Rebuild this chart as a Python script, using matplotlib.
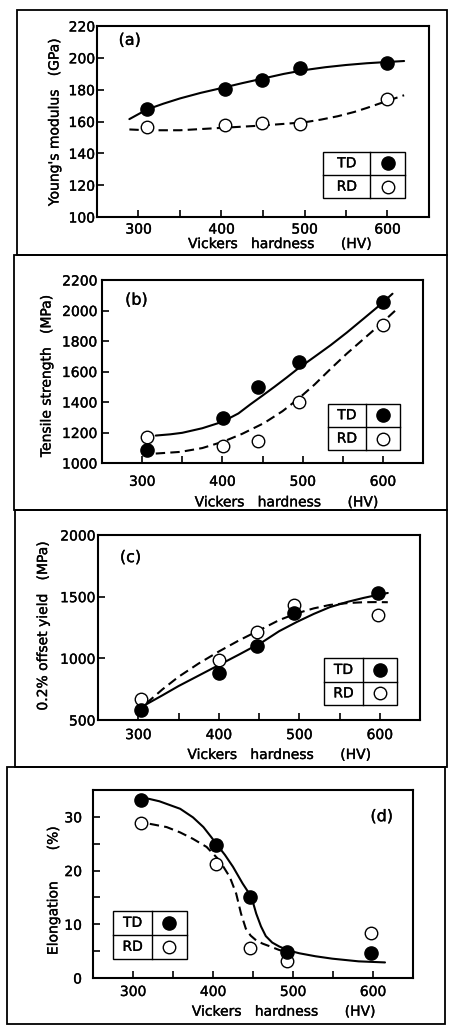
import matplotlib.pyplot as plt
import matplotlib.patheffects as pe
from matplotlib.text import Text
from matplotlib.patches import Rectangle
from matplotlib.lines import Line2D
from matplotlib.ticker import MultipleLocator

plt.rcParams['font.family'] = ['DejaVu Sans']
plt.rcParams['font.size'] = 10

# measured points: hardness (HV) and property, TD and RD specimens
hv_a = [310, 404, 449, 495, 600]
td_young = [168, 180.5, 186, 193.5, 196.5]
rd_young = [156.5, 158, 159, 158.5, 174]

hv_b = [306, 401, 445, 496, 600]
td_tensile = [1085, 1295, 1500, 1662, 2055]
rd_tensile = [1170, 1110, 1145, 1402, 1903]

hv_c = [303, 400, 447, 494, 598]
td_yield = [585, 885, 1100, 1365, 1530]
rd_yield = [670, 988, 1216, 1430, 1352]

hv_d = [310, 404, 446, 493, 598]
td_elong = [33.2, 24.7, 15.0, 4.9, 4.6]
rd_elong = [28.8, 21.2, 5.5, 3.1, 8.4]

# hand drawn trend curves
td_young_hv = [289, 310, 330, 350, 375, 400, 425, 450, 475, 500, 525, 550, 575, 600, 620]
td_young_fit = [161.5, 167.5, 171.2, 174.5, 178, 181, 184.1, 187, 189.9, 192.3, 194.1, 195.5, 196.6, 197.4, 198]
rd_young_hv = [289, 310, 350, 400, 450, 500, 520, 540, 560, 575, 590, 600, 620]
rd_young_fit = [155, 154.5, 154.5, 156, 157.5, 159.5, 161.2, 163.3, 166, 168.5, 171.2, 173, 176.5]

td_tensile_hv = [317, 335, 350, 375, 400, 420, 435, 450, 465, 480, 494, 515, 535, 555, 577, 595, 612]
td_tensile_fit = [1180, 1188, 1198, 1228, 1270, 1325, 1385, 1442, 1500, 1560, 1618, 1697, 1773, 1855, 1951, 2030, 2110]
rd_tensile_hv = [317, 348, 375, 401, 425, 452, 475, 494, 515, 535, 555, 577, 597, 617]
rd_tensile_fit = [1062, 1073, 1098, 1140, 1192, 1262, 1340, 1418, 1515, 1618, 1717, 1818, 1910, 2007]

td_yield_hv = [308, 330, 350, 375, 400, 425, 455, 475, 497, 518, 538, 560, 580, 597, 610]
td_yield_fit = [620, 700, 775, 860, 945, 1030, 1135, 1220, 1295, 1360, 1415, 1458, 1490, 1514, 1530]
rd_yield_hv = [310, 330, 350, 375, 400, 425, 455, 475, 497, 518, 538, 560, 580, 595, 610]
rd_yield_fit = [635, 748, 850, 958, 1055, 1145, 1243, 1310, 1365, 1405, 1433, 1448, 1455, 1456, 1455]

td_elong_hv = [310, 333, 359, 375, 388, 398, 404, 415, 425, 437, 448, 454, 460, 466, 474, 483, 495, 508, 528, 549, 582, 615]
td_elong_fit = [33.7, 32.9, 31.5, 29.9, 28.1, 26.2, 25.0, 22.9, 20.7, 17.6, 15.1, 12.0, 9.6, 7.8, 6.6, 5.85, 5.1, 4.6, 4.05, 3.6, 3.1, 2.9]
rd_elong_hv = [321, 342, 359, 375, 392, 408, 421, 429, 435, 441, 447, 454, 462, 471, 483, 500]
rd_elong_fit = [28.7, 28.1, 27.1, 25.9, 24.4, 21.9, 18.8, 15.7, 12.0, 9.2, 7.9, 7.0, 6.4, 5.9, 5.2, 4.6]

W, H = 449, 1026
fig = plt.figure(figsize=(W / 100, H / 100), dpi=100)

MS = 9.5
LW = 1.5
DASH = (0, (4.5, 2.5))


def add_axes_px(l, t, r, b):
    return fig.add_axes([l / W, 1 - b / H, (r - l) / W, (b - t) / H])


def frame_px(l, t, r, b):
    fig.add_artist(Rectangle((l / W, 1 - b / H), (r - l) / W, (b - t) / H,
                             transform=fig.transFigure, fill=False,
                             lw=1.3, ec='black'))


def draw_key(ax, x0, x1, xd, y0, ym, y1):
    tr = ax.transAxes
    ax.add_patch(Rectangle((x0, y0), x1 - x0, y1 - y0, transform=tr,
                           fill=False, lw=1.0, ec='black', zorder=5))
    ax.add_line(Line2D([xd, xd], [y0, y1], transform=tr, lw=1.0, color='black', zorder=5))
    ax.add_line(Line2D([x0, x1], [ym, ym], transform=tr, lw=1.0, color='black', zorder=5))
    xt = (x0 + xd) / 2
    xm = (xd + x1) / 2
    yt = (ym + y1) / 2
    yb = (y0 + ym) / 2
    ax.text(xt, yt, 'TD', transform=tr, ha='center', va='center', fontsize=10)
    ax.text(xt, yb, 'RD', transform=tr, ha='center', va='center', fontsize=10)
    ax.plot([xm], [yt], 'o', color='black', ms=MS, transform=tr, clip_on=False, zorder=6)
    ax.plot([xm], [yb], 'o', mfc='white', mec='black', mew=1.0, ms=MS - 0.5,
            transform=tr, clip_on=False, zorder=6)


def style(ax, ylim, ystep, yminor, xpad, ypad):
    ax.set_xlim(250, 650)
    ax.set_ylim(*ylim)
    ax.xaxis.set_major_locator(MultipleLocator(100))
    ax.xaxis.set_minor_locator(MultipleLocator(50))
    ax.yaxis.set_major_locator(MultipleLocator(ystep))
    if yminor:
        ax.yaxis.set_minor_locator(MultipleLocator(yminor))
    for s in ax.spines.values():
        s.set_linewidth(1.5)
    ax.tick_params(axis='both', which='both', direction='in', length=5, width=1.2)
    ax.tick_params(axis='x', pad=xpad)
    ax.tick_params(axis='y', pad=ypad)


def draw_panel(ax, hv, td, rd, td_hv, td_fit, rd_hv, rd_fit):
    ax.plot(td_hv, td_fit, '-', color='black', lw=LW, solid_capstyle='round', zorder=2)
    ax.plot(rd_hv, rd_fit, color='black', lw=LW, linestyle=DASH, zorder=2)
    ax.plot(hv, rd, 'o', mfc='white', mec='black', mew=1.0, ms=MS - 0.5, zorder=3, clip_on=False)
    ax.plot(hv, td, 'o', color='black', ms=MS, zorder=4, clip_on=False)


XLABEL = 'Vickers   hardness      (HV)'

# panel frames
frame_px(17, 10, 447, 255)
frame_px(14, 255, 447, 510)
frame_px(15, 510, 447, 767)
frame_px(7, 767, 445, 1024)

# (a) Young's modulus
ax = add_axes_px(97, 26, 429, 217)
draw_panel(ax, hv_a, td_young, rd_young, td_young_hv, td_young_fit, rd_young_hv, rd_young_fit)
style(ax, (100, 220), 20, None, 4, 1.5)
ax.set_ylabel("Young's modulus   (GPa)")
ax.yaxis.set_label_coords(-0.107, 0.495)
ax.set_xlabel(XLABEL)
ax.xaxis.set_label_coords(0.55, -0.105)
ax.text(0.065, 0.925, '(a)', transform=ax.transAxes, ha='left', va='center', fontsize=11.5)
draw_key(ax, 0.682, 0.928, 0.823, 0.098, 0.22, 0.342)

# (b) tensile strength
ax = add_axes_px(102, 280, 423, 463)
draw_panel(ax, hv_b, td_tensile, rd_tensile, td_tensile_hv, td_tensile_fit, rd_tensile_hv, rd_tensile_fit)
style(ax, (1000, 2200), 200, None, 8.5, 3.5)
ax.set_ylabel('Tensile strength   (MPa)')
ax.yaxis.set_label_coords(-0.151, 0.475)
ax.set_xlabel(XLABEL)
ax.xaxis.set_label_coords(0.574, -0.177)
ax.text(0.072, 0.89, '(b)', transform=ax.transAxes, ha='left', va='center', fontsize=11.5)
draw_key(ax, 0.703, 0.928, 0.823, 0.07, 0.197, 0.325)

# (c) 0.2% offset yield
ax = add_axes_px(98, 535, 420, 720)
draw_panel(ax, hv_c, td_yield, rd_yield, td_yield_hv, td_yield_fit, rd_yield_hv, rd_yield_fit)
style(ax, (500, 2000), 500, None, 5.8, 2)
ax.set_ylabel('0.2% offset yield   (MPa)')
ax.yaxis.set_label_coords(-0.149, 0.508)
ax.set_xlabel(XLABEL)
ax.xaxis.set_label_coords(0.562, -0.151)
ax.text(0.068, 0.878, '(c)', transform=ax.transAxes, ha='left', va='center', fontsize=11.5)
draw_key(ax, 0.703, 0.928, 0.822, 0.081, 0.207, 0.334)

# (d) elongation
ax = add_axes_px(93, 790, 413, 978)
draw_panel(ax, hv_d, td_elong, rd_elong, td_elong_hv, td_elong_fit, rd_elong_hv, rd_elong_fit)
style(ax, (0, 35), 10, 5, 5, 8)
ax.set_ylabel('Elongation       (%)')
ax.yaxis.set_label_coords(-0.102, 0.464)
ax.set_xlabel(XLABEL)
ax.xaxis.set_label_coords(0.595, -0.142)
ax.text(0.938, 0.858, '(d)', transform=ax.transAxes, ha='right', va='center', fontsize=11.5)
draw_key(ax, 0.064, 0.293, 0.184, 0.102, 0.23, 0.357)

# slightly heavier type, like the printed figure
for t in fig.findobj(Text):
    t.set_path_effects([pe.withStroke(linewidth=0.25, foreground='black')])

fig.savefig('out.png', dpi=100, facecolor='white')
